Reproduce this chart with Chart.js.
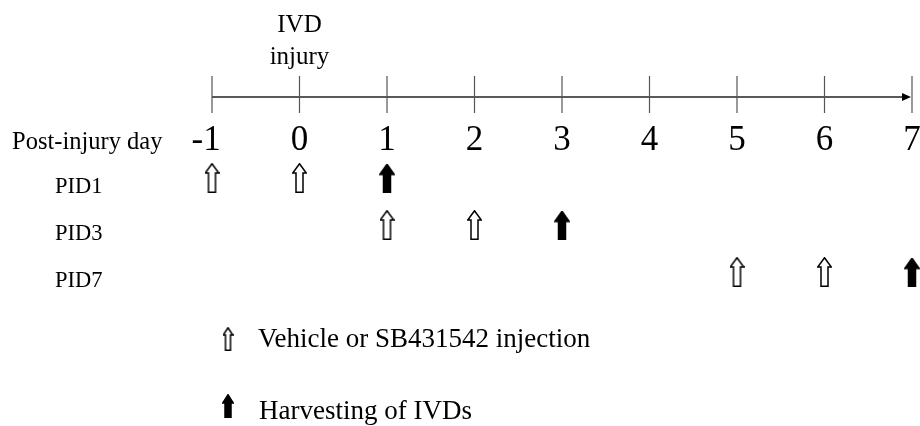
<!DOCTYPE html>
<html>
<head>
<meta charset="utf-8">
<script src="https://cdn.jsdelivr.net/npm/chart.js@4/dist/chart.umd.min.js"></script>
<style>
  body { margin: 0; background: #fff; }
  canvas { display: block; }
</style>
</head>
<body>
<canvas id="timeline" width="920" height="426"></canvas>
<script>
// dữ liệu của sơ đồ
const days = [-1, 0, 1, 2, 3, 4, 5, 6, 7];
const dayLabels = ['-1', '0', '1', '2', '3', '4', '5', '6', '7'];
const groups = ['PID1', 'PID3', 'PID7'];
const injectionDays = [[-1, 0], [1, 2], [5, 6]];
const harvestDays = [1, 3, 7];
const injuryDay = 0;
const injuryLabel = ['IVD', 'injury'];
const axisTitle = 'Post-injury day';
const injectionLabel = 'Vehicle or SB431542 injection';
const harvestLabel = 'Harvesting of IVDs';

const FONT = '"Liberation Serif", "Times New Roman", serif';

// vẽ mũi tên lên một canvas nhỏ để dùng làm pointStyle
function makeArrow(w, h, headH, shaftW, filled) {
  const c = document.createElement('canvas');
  c.width = w; c.height = h;
  const g = c.getContext('2d');
  const m = 0.75, cx = w / 2;
  g.beginPath();
  g.moveTo(cx, m);
  g.lineTo(w - m, headH);
  g.lineTo(cx + shaftW / 2, headH);
  g.lineTo(cx + shaftW / 2, h - m);
  g.lineTo(cx - shaftW / 2, h - m);
  g.lineTo(cx - shaftW / 2, headH);
  g.lineTo(m, headH);
  g.closePath();
  g.fillStyle = filled ? '#000' : '#fff';
  g.fill();
  g.lineWidth = 1.5;
  g.strokeStyle = '#000';
  g.stroke();
  return c;
}

const openArrow = makeArrow(15, 30, 10, 7, false);
const solidArrow = makeArrow(16, 29, 11, 7, true);
const openArrowSmall = makeArrow(11, 24, 8, 5, false);
const solidArrowSmall = makeArrow(12, 24, 9, 6, true);

const injectionPoints = [];
injectionDays.forEach((list, i) => list.forEach(d => injectionPoints.push({ x: d, y: groups[i] })));
const harvestPoints = harvestDays.map((d, i) => ({ x: d, y: groups[i] }));

const timelinePlugin = {
  id: 'timeline',
  beforeDraw(chart) {
    const ctx = chart.ctx;
    ctx.save();
    ctx.fillStyle = '#fff';
    ctx.fillRect(0, 0, chart.width, chart.height);
    ctx.restore();
  },
  afterDatasetsDraw(chart) {
    const ctx = chart.ctx;
    const xs = chart.scales.x;
    const ys = chart.scales.y;
    const lineY = 97;
    ctx.save();

    // trục thời gian
    const x0 = xs.getPixelForValue(days[0]);
    const x1 = xs.getPixelForValue(days[days.length - 1]);
    ctx.strokeStyle = '#222';
    ctx.lineWidth = 1.5;
    ctx.beginPath();
    ctx.moveTo(x0, lineY);
    ctx.lineTo(x1 - 6, lineY);
    ctx.stroke();
    ctx.fillStyle = '#000';
    ctx.beginPath();
    ctx.moveTo(x1 - 1, lineY);
    ctx.lineTo(x1 - 10, lineY - 4);
    ctx.lineTo(x1 - 10, lineY + 4);
    ctx.closePath();
    ctx.fill();

    // vạch chia và nhãn ngày
    ctx.strokeStyle = '#555';
    ctx.lineWidth = 1.2;
    ctx.font = '35px ' + FONT;
    ctx.textAlign = 'center';
    ctx.textBaseline = 'alphabetic';
    days.forEach((d, i) => {
      const px = xs.getPixelForValue(d);
      ctx.beginPath();
      ctx.moveTo(px, 76);
      ctx.lineTo(px, 113);
      ctx.stroke();
      const lbl = dayLabels[i];
      let shift = 0;
      if (lbl.startsWith('-')) shift = -ctx.measureText('-').width / 2;
      ctx.fillText(lbl, px + shift, 150);
    });

    // nhãn trục
    ctx.font = '24.5px ' + FONT;
    ctx.textAlign = 'left';
    ctx.fillText(axisTitle, 12, 149);

    // chú thích ngày gây tổn thương
    const ix = xs.getPixelForValue(injuryDay);
    ctx.font = '25px ' + FONT;
    ctx.textAlign = 'center';
    ctx.fillText(injuryLabel[0], ix, 32);
    ctx.fillText(injuryLabel[1], ix, 64);

    // tên nhóm
    ctx.font = '22.5px ' + FONT;
    ctx.textAlign = 'left';
    groups.forEach(gname => {
      ctx.fillText(gname, 55, ys.getPixelForValue(gname) + 15);
    });

    // chú thích
    ctx.drawImage(openArrowSmall, 228 - openArrowSmall.width / 2, 327);
    ctx.drawImage(solidArrowSmall, 228 - solidArrowSmall.width / 2, 394);
    ctx.font = '27px ' + FONT;
    ctx.fillText(injectionLabel, 258, 347);
    ctx.fillText(harvestLabel, 259, 419);

    ctx.restore();
  }
};

new Chart(document.getElementById('timeline'), {
  type: 'scatter',
  data: {
    datasets: [
      {
        label: injectionLabel,
        data: injectionPoints,
        pointStyle: openArrow,
        clip: false
      },
      {
        label: harvestLabel,
        data: harvestPoints,
        pointStyle: solidArrow,
        clip: false
      }
    ]
  },
  options: {
    responsive: false,
    animation: false,
    layout: { padding: { left: 212, right: 8, top: 178, bottom: 154 } },
    plugins: {
      legend: { display: false },
      tooltip: { enabled: false }
    },
    scales: {
      x: { type: 'linear', min: -1, max: 7, display: false },
      y: { type: 'category', labels: groups, offset: false, display: false }
    }
  },
  plugins: [timelinePlugin]
});
</script>
</body>
</html>
